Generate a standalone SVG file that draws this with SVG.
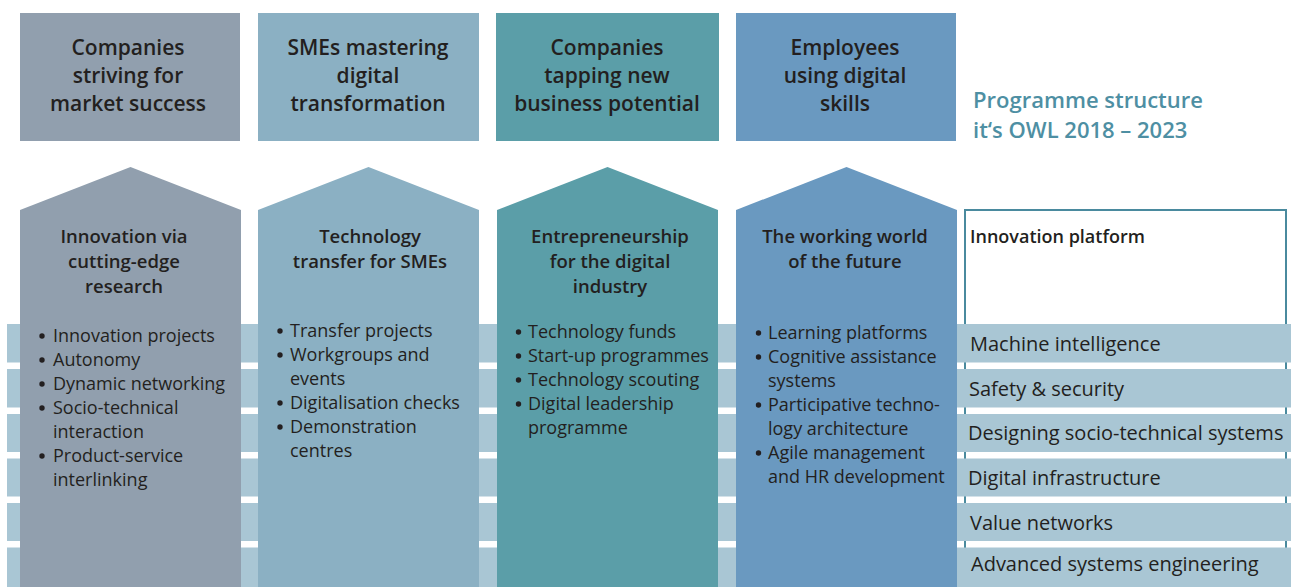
<svg xmlns="http://www.w3.org/2000/svg" width="1291" height="587" viewBox="0 0 1291 587">
<style>
text{font-family:"Open Sans","Noto Sans","DejaVu Sans",sans-serif;fill:#231f20}
.top{font-size:21px;font-weight:600;text-anchor:middle}
.hd{font-size:18.5px;font-weight:600;text-anchor:middle}
.li{font-size:18px}
.st{font-size:20px}
.ttl{font-size:22px;font-weight:600;fill:#4e8fa3}
.c1{fill:#919fae}.c2{fill:#8bb0c3}.c3{fill:#5b9ea8}.c4{fill:#6a99c0}
.stripe{fill:#a9c6d4}
.b{fill:#231f20}
</style>
<rect width="1291" height="587" fill="#ffffff"/>
<g id="title">
<text class="ttl" x="973" y="108">Programme structure</text>
<text class="ttl" x="973" y="138">it‘s OWL 2018 – 2023</text>
</g>
<g id="innovation-platform">
<rect x="965" y="210" width="321" height="390" fill="#ffffff" stroke="#4a8a9e" stroke-width="2"/>
<text x="970" y="243" style="font-size:18px;font-weight:600">Innovation platform</text>
</g>
<g id="stripes">
<rect class="stripe" x="7" y="324" width="1284" height="38.5"/>
<rect class="stripe" x="7" y="369" width="1284" height="38.5"/>
<rect class="stripe" x="7" y="414" width="1284" height="38"/>
<rect class="stripe" x="7" y="458.5" width="1284" height="38"/>
<rect class="stripe" x="7" y="503" width="1284" height="38"/>
<rect class="stripe" x="7" y="547.5" width="1284" height="40"/>
<text class="st" x="970" y="351">Machine intelligence</text>
<text class="st" x="969" y="396">Safety &amp; security</text>
<text class="st" x="968" y="440">Designing socio-technical systems</text>
<text class="st" x="968" y="485">Digital infrastructure</text>
<text class="st" x="970" y="530">Value networks</text>
<text class="st" x="971" y="571">Advanced systems engineering</text>
</g>
<g id="col1">
<rect class="c1" x="20" y="13" width="220" height="128"/>
<text class="top" x="128" y="55">Companies</text>
<text class="top" x="128" y="83">striving for</text>
<text class="top" x="128" y="111">market success</text>
<polygon class="c1" points="20,210 130.5,167 241,210 241,587 20,587"/>
<text class="hd" x="124" y="243">Innovation via</text>
<text class="hd" x="124" y="268">cutting-edge</text>
<text class="hd" x="124" y="293">research</text>
<g class="b">
<circle cx="42" cy="336" r="2.7"/><circle cx="42" cy="360" r="2.7"/><circle cx="42" cy="384" r="2.7"/><circle cx="42" cy="408" r="2.7"/><circle cx="42" cy="456" r="2.7"/>
</g>
<g class="li">
<text x="53" y="342">Innovation projects</text>
<text x="53" y="366">Autonomy</text>
<text x="53" y="390">Dynamic networking</text>
<text x="53" y="414">Socio-technical</text>
<text x="53" y="438">interaction</text>
<text x="53" y="462">Product-service</text>
<text x="53" y="486">interlinking</text>
</g>
</g>
<g id="col2">
<rect class="c2" x="258" y="13" width="221" height="128"/>
<text class="top" x="368" y="55">SMEs mastering</text>
<text class="top" x="368" y="83">digital</text>
<text class="top" x="368" y="111">transformation</text>
<polygon class="c2" points="258,210 368.5,167 479,210 479,587 258,587"/>
<text class="hd" x="370" y="243">Technology</text>
<text class="hd" x="370" y="268">transfer for SMEs</text>
<g class="b">
<circle cx="280" cy="331" r="2.7"/><circle cx="280" cy="355" r="2.7"/><circle cx="280" cy="403" r="2.7"/><circle cx="280" cy="427" r="2.7"/>
</g>
<g class="li">
<text x="290" y="337">Transfer projects</text>
<text x="290" y="361">Workgroups and</text>
<text x="290" y="385">events</text>
<text x="290" y="409">Digitalisation checks</text>
<text x="290" y="433">Demonstration</text>
<text x="290" y="457">centres</text>
</g>
</g>
<g id="col3">
<rect class="c3" x="496" y="13" width="223" height="128"/>
<text class="top" x="607" y="55">Companies</text>
<text class="top" x="607" y="83">tapping new</text>
<text class="top" x="607" y="111">business potential</text>
<polygon class="c3" points="497,210 607.5,167 718,210 718,587 497,587"/>
<text class="hd" x="610" y="243">Entrepreneurship</text>
<text class="hd" x="610" y="268">for the digital</text>
<text class="hd" x="610" y="293">industry</text>
<g class="b">
<circle cx="518.5" cy="332" r="2.7"/><circle cx="518.5" cy="356" r="2.7"/><circle cx="518.5" cy="380" r="2.7"/><circle cx="518.5" cy="404" r="2.7"/>
</g>
<g class="li">
<text x="528" y="338">Technology funds</text>
<text x="528" y="362">Start-up programmes</text>
<text x="528" y="386">Technology scouting</text>
<text x="528" y="410">Digital leadership</text>
<text x="528" y="434">programme</text>
</g>
</g>
<g id="col4">
<rect class="c4" x="736" y="13" width="220" height="128"/>
<text class="top" x="845" y="55">Employees</text>
<text class="top" x="845" y="83">using digital</text>
<text class="top" x="845" y="111">skills</text>
<polygon class="c4" points="736,210 846.5,167 957,210 957,587 736,587"/>
<text class="hd" x="845" y="243">The working world</text>
<text class="hd" x="845" y="268">of the future</text>
<g class="b">
<circle cx="758.5" cy="333" r="2.7"/><circle cx="758.5" cy="357" r="2.7"/><circle cx="758.5" cy="405" r="2.7"/><circle cx="758.5" cy="453" r="2.7"/>
</g>
<g class="li">
<text x="768" y="339">Learning platforms</text>
<text x="768" y="363">Cognitive assistance</text>
<text x="768" y="387">systems</text>
<text x="768" y="411">Participative techno-</text>
<text x="768" y="435">logy architecture</text>
<text x="768" y="459">Agile management</text>
<text x="768" y="483">and HR development</text>
</g>
</g>
</svg>
